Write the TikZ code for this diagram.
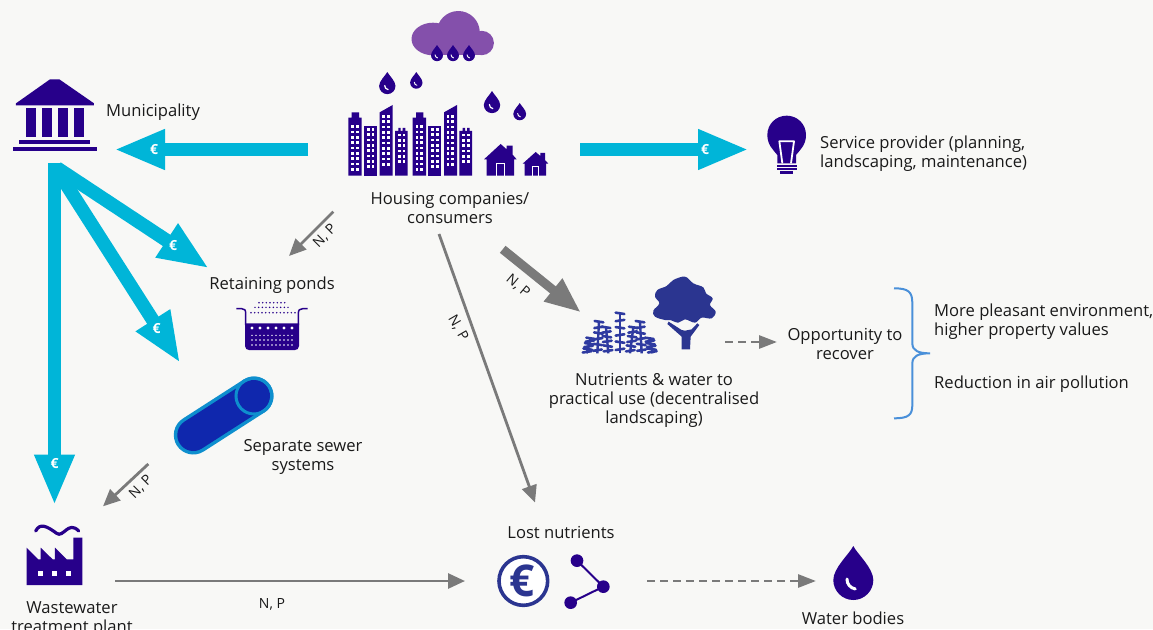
\documentclass[tikz,border=0pt]{standalone}
\usepackage{fontspec}
\setmainfont{Open Sans}
\usetikzlibrary{arrows.meta,calc}
\definecolor{pagebg}{HTML}{F8F8F6}
\definecolor{iconviolet}{HTML}{27008A}
\definecolor{cloudpurple}{HTML}{8450AB}
\definecolor{flowcyan}{HTML}{00B5D8}
\definecolor{flowgray}{HTML}{7A7A7A}
\definecolor{treeblue}{HTML}{2B3590}
\definecolor{plantblue}{HTML}{2E3AA0}
\definecolor{pipefill}{HTML}{0F27AD}
\definecolor{pipeedge}{HTML}{0E8FCE}
\definecolor{bracketblue}{HTML}{4A90D9}
\definecolor{labelink}{HTML}{1A1A1A}
\newcommand{\dropicon}[3]{%
  \fill[iconviolet,shift={(#1,#2)},scale=#3] (0,0) .. controls (-4,8) and (-20,22) .. (-20,34)
    .. controls (-20,45) and (-11,54) .. (0,54) .. controls (11,54) and (20,45) .. (20,34)
    .. controls (20,22) and (4,8) .. cycle;
  \draw[white,line cap=round,line width=#3*3pt,shift={(#1,#2)},scale=#3] (-6.3,33) .. controls (-6.5,38) and (-3,42) .. (2,43);
}
\tikzset{
  cyanflow/.style={draw=flowcyan,line width=13.5pt,-{Triangle[length=51pt,width=37pt,fill=flowcyan]}},
  euro/.style={text=white,font=\fontsize{14}{14}\selectfont\bfseries,inner sep=0pt},
  grayflow/.style={draw=flowgray,line width=2.8pt,-{Triangle[length=17pt,width=15pt,fill=flowgray]}},
  grayheavy/.style={draw=flowgray,line width=9pt,-{Triangle[length=36pt,width=27pt,fill=flowgray]}},
  graydash/.style={draw=flowgray,line width=2.8pt,dash pattern=on 8pt off 5pt,-{Triangle[length=18pt,width=13pt,fill=flowgray]}},
  txt/.style={text=labelink,font=\fontsize{16.6}{19}\selectfont,inner sep=0pt,align=center},
  txtl/.style={txt,align=left,anchor=west},
  nplabel/.style={text=labelink,font=\fontsize{14}{14}\selectfont,inner sep=0pt},
}
\begin{document}
\begin{tikzpicture}[x=1pt,y=-1pt]
\useasboundingbox (0,0) rectangle (1153,629);
\fill[pagebg] (0,0) rectangle (1153,629);

% cloud
\fill[cloudpurple] (458.3,32.5) circle (21.5);
\fill[cloudpurple] (433,39) ellipse (21.5 and 16.3);
\fill[cloudpurple] (481.7,43) circle (12.2);
\fill[cloudpurple] (428,34) rectangle (482,55);
\dropicon{437}{45}{0.3}
\dropicon{453}{45}{0.3}
\dropicon{469}{45}{0.3}
\dropicon{387.3}{72}{0.41}
\dropicon{416.3}{72}{0.31}
\dropicon{492}{91}{0.41}
\dropicon{519.7}{103}{0.32}

% city
\begin{scope}[shift={(330,0)},scale=1/3]
\foreach \dx in {0,193}{
  \fill[iconviolet] (\dx+55,527) -- (\dx+55,353) -- (\dx+65,353) -- (\dx+65,337) -- (\dx+87,337) -- (\dx+87,353) -- (\dx+95,353) -- (\dx+95,527) -- cycle;
  \fill[iconviolet] (\dx+102,377) rectangle (\dx+141,527);
  \fill[iconviolet] (\dx+149,527) -- (\dx+149,337) -- (\dx+188,315) -- (\dx+188,527) -- cycle;
  \fill[iconviolet] (\dx+195,527) -- (\dx+195,393) -- (\dx+205,393) -- (\dx+205,384) -- (\dx+212,384) -- (\dx+212,393) -- (\dx+218,393) -- (\dx+218,384) -- (\dx+226,384) -- (\dx+226,393) -- (\dx+233,393) -- (\dx+233,527) -- cycle;
  \foreach \c in {68,82}{\foreach \r in {380,396,...,508}{\fill[white] (\dx+\c-4,\r-4) rectangle ++(8,8);}}
  \foreach \c in {115,129}{\foreach \r in {388,404,...,500}{\fill[white] (\dx+\c-4,\r-4) rectangle ++(8,8);}}
  \foreach \c in {161,175}{\foreach \r in {349,365,...,508}{\fill[white] (\dx+\c-4,\r-4) rectangle ++(8,8);}}
  \foreach \c in {208,222}{\foreach \r in {405,421,...,500}{\fill[white] (\dx+\c-4,\r-4) rectangle ++(8,8);}}
}
\fill[iconviolet] (462,478) -- (512,432) -- (530,448) -- (530,437) -- (548,437) -- (548,464) -- (560,478) -- (552,478) -- (552,527) -- (470,527) -- (470,478) -- cycle;
\draw[white,line width=1pt] (500,527) -- (500,491) -- (524,491) -- (524,527);
\fill[iconviolet] (578,491) -- (617,456) -- (631,468) -- (631,459) -- (645,459) -- (645,480) -- (655,491) -- (648,491) -- (648,527) -- (584,527) -- (584,491) -- cycle;
\draw[white,line width=1pt] (608,527) -- (608,499) -- (625,499) -- (625,527);
\end{scope}

% municipality
\begin{scope}[shift={(0,70)},scale=1/3]
\fill[iconviolet] (48,100) -- (150,28) -- (178,28) -- (282,100) -- (282,106) -- (48,106) -- cycle;
\foreach \c in {78,126,174,222}{\fill[iconviolet] (\c,114) rectangle (\c+30,200);}
\fill[iconviolet] (57,210) rectangle (270,221);
\fill[iconviolet] (39,232) rectangle (291,243);
\end{scope}

% bulb
\begin{scope}[shift={(740,100)},scale=1/3]
\fill[iconviolet] (112,190) -- (112,165) .. controls (100,150) and (82,135) .. (82,105)
  .. controls (82,72) and (108,47) .. (140,47) .. controls (172,47) and (198,72) .. (198,105)
  .. controls (198,135) and (180,150) .. (168,165) -- (168,190) -- cycle;
\draw[white,line width=1.8pt,line join=round] (127,190) -- (118,124) -- (162,124) -- (153,190);
\fill[iconviolet] (110,195) rectangle (170,200);
\fill[iconviolet] (110,205) rectangle (170,210);
\fill[iconviolet] (120,214) rectangle (160,223);
\end{scope}

% ponds
\begin{scope}[shift={(150,260)},scale=1/3]
\fill[iconviolet] (285,190) -- (447,190) -- (447,258) .. controls (447,266) and (441,270) .. (435,270) -- (297,270) .. controls (291,270) and (285,266) .. (285,258) -- cycle;
\draw[iconviolet,line width=1.5pt] (259,146) -- (275,146) .. controls (284,146) and (287,150) .. (287,160) -- (287,195);
\draw[iconviolet,line width=1.5pt] (473,146) -- (458,146) .. controls (449,146) and (445,150) .. (445,160) -- (445,195);
\foreach \c in {306,330,...,426}{\fill[white] (\c,204) circle (4.8);}
\foreach \r in {226,240,255}{\foreach \c in {306,318,...,430}{\fill[white] (\c,\r) circle (2.5);}}
\foreach \c in {303,314,...,435}{\fill[iconviolet] (\c,158) circle (2.5);}
\foreach \c in {315,326,...,420}{\fill[iconviolet] (\c,142) circle (2.5);}
\foreach \c in {327,338,...,408}{\fill[iconviolet] (\c,128) circle (2.5);}
\end{scope}

% pipe
\draw[pipeedge,line width=39pt,line cap=round] (193.3,435) -- (254,396);
\draw[pipefill,line width=32pt,line cap=round] (193.3,435) -- (254,396);
\draw[pipeedge,line width=3pt] (254,396) circle (18);

% plants and tree
\begin{scope}[shift={(570,270)},scale=1/3]
\foreach \bx/\tx/\ty in {50/62/205,82/87/155,115/108/172,150/150/130,180/190/172,215/210/155,248/238/205}{
  \draw[plantblue,line width=2.4pt] (\bx,250) -- (\tx,\ty);
  \foreach \t/\s in {0.1/1,0.28/-1,0.46/1,0.64/-1,0.82/1,1.0/-1}{
    \draw[plantblue,line width=2.6pt,line cap=round] ($(\bx,250)!\t!(\tx,\ty)+(-13,\s*2)$) -- ($(\bx,250)!\t!(\tx,\ty)+(13,-\s*2)$);
  }
}
\fill[treeblue] plot[smooth cycle,tension=0.6] coordinates {(345,20) (370,40) (400,52) (408,70) (428,85) (420,105) (437,125) (425,145) (395,143) (375,158) (345,148) (325,158) (300,150) (285,150) (255,140) (250,122) (268,100) (255,80) (262,60) (290,48) (310,30)};
\fill[treeblue] (335,238) -- (335,200) -- (292,162) -- (296,155) -- (335,180) -- (345,182) -- (365,178) -- (382,160) -- (388,165) -- (362,200) -- (360,238) -- cycle;
\end{scope}

% factory
\begin{scope}[shift={(0,500)},scale=1/3]
\fill[iconviolet] (80,255) -- (80,143) -- (115,178) -- (122,178) -- (122,143) -- (158,178) -- (165,178) -- (165,143) -- (200,178) -- (220,178) -- (220,113) -- (247,113) -- (247,255) -- cycle;
\foreach \c in {115,157,199}{\fill[white] (\c,213) rectangle (\c+14,227);}
\draw[iconviolet,line width=3.2pt,line cap=round] (107,93) .. controls (120,68) and (140,78) .. (170,100) .. controls (190,115) and (205,60) .. (236,93);
\end{scope}

% lost nutrients icons
\begin{scope}[shift={(480,520)},scale=1/3]
\draw[treeblue,line width=3.6pt,fill=white] (130,183) circle (73);
\node[text=treeblue,font=\fontsize{44}{44}\selectfont\bfseries,inner sep=0pt] (lostEuro) at (125,183) {€};
\draw[iconviolet,line width=2pt] (291,122) -- (370,200) -- (272,248);
\fill[iconviolet] (291,122) circle (19);
\fill[iconviolet] (370,200) circle (19);
\fill[iconviolet] (272,248) circle (19);
\end{scope}
\dropicon{853.3}{546}{1}

% bracket
\begin{scope}[shift={(880,280)},scale=1/3]
\draw[bracketblue,line width=2pt] (42,25) .. controls (85,25) and (97,35) .. (97,70) -- (97,190) .. controls (97,212) and (115,220) .. (150,220) .. controls (115,220) and (97,228) .. (97,250) -- (97,375) .. controls (97,405) and (85,415) .. (42,415);
\end{scope}

% connector ends
\coordinate (houseW) at (308,149.5);
\coordinate (muniE) at (114,149.5);
\coordinate (houseE) at (580,149.5);
\coordinate (provW) at (749,149.5);
\coordinate (muniS) at (54.5,163);
\coordinate (plantN) at (54.5,505.5);
\coordinate (muniSE) at (57,168);
\coordinate (pondsNW) at (209.2,268.5);
\coordinate (muniSSE) at (57,170);
\coordinate (sewerNW) at (180.3,363.2);
\coordinate (houseSW) at (333.3,211.7);
\coordinate (pondsNE) at (289,256);
\coordinate (houseS) at (439,234);
\coordinate (lostN) at (535,502.5);
\coordinate (houseSE) at (502.7,249.3);
\coordinate (useNW) at (581,312.5);
\coordinate (sewerSW) at (148.3,464);
\coordinate (plantNE) at (103,506.3);
\coordinate (plantE) at (115,581);
\coordinate (lostW) at (465,581);
\coordinate (useE) at (725,342);
\coordinate (oppW) at (777,342);
\coordinate (lostE) at (647,581);
\coordinate (waterW) at (816,581);

% connectors
\draw[cyanflow] (houseW) -- (muniE);
\draw[cyanflow] (houseE) -- (provW);
\draw[cyanflow] (muniS) -- (plantN);
\draw[cyanflow] (muniSE) -- (pondsNW);
\draw[cyanflow] (muniSSE) -- (sewerNW);
\draw[grayflow] (houseSW) -- (pondsNE);
\draw[grayflow] (houseS) -- (lostN);
\draw[grayheavy] (houseSE) -- (useNW);
\draw[grayflow] (sewerSW) -- (plantNE);
\draw[grayflow] (plantE) -- (lostW);
\draw[graydash] (useE) -- (oppW);
\draw[graydash] (lostE) -- (waterW);

% euro labels
\node[euro] (e1) at (154,149.5) {€};
\node[euro] (e2) at (705,150) {€};
\node[euro] (e3) at (54.5,464) {€};
\node[euro] (e4) at (173,246) {€};
\node[euro] (e5) at (156.5,329) {€};

% N, P labels
\node[nplabel,rotate=45] (np1) at (325,236) {N, P};
\node[nplabel,rotate=-40] (np2) at (518,286) {N, P};
\node[nplabel,rotate=-60] (np3) at (458,328) {N, P};
\node[nplabel,rotate=45] (np4) at (141,487) {N, P};
\node[nplabel] (np5) at (272,604) {N, P};

% text
\node[txtl] (muni) at (106,112.5) {Municipality};
\node[txt] (house) at (450,207.5) {Housing companies/\\consumers};
\node[txtl] (prov) at (820,153.5) {Service provider (planning,\\landscaping, maintenance)};
\node[txt] (ponds) at (272,285) {Retaining ponds};
\node[txt] (sewer) at (303,456.5) {Separate sewer\\systems};
\node[txt] (use) at (654,400) {Nutrients \& water to\\practical use (decentralised\\landscaping)};
\node[txt] (opp) at (845,343.5) {Opportunity to\\recover};
\node[txtl] (pleasant) at (934,322) {More pleasant environment,\\higher property values};
\node[txtl] (air) at (934,384) {Reduction in air pollution};
\node[txt] (lost) at (561,532) {Lost nutrients};
\node[txt] (water) at (853,618) {Water bodies};
\node[txt] (plant) at (72,619) {Wastewater\\treatment plant};
\end{tikzpicture}
\end{document}
